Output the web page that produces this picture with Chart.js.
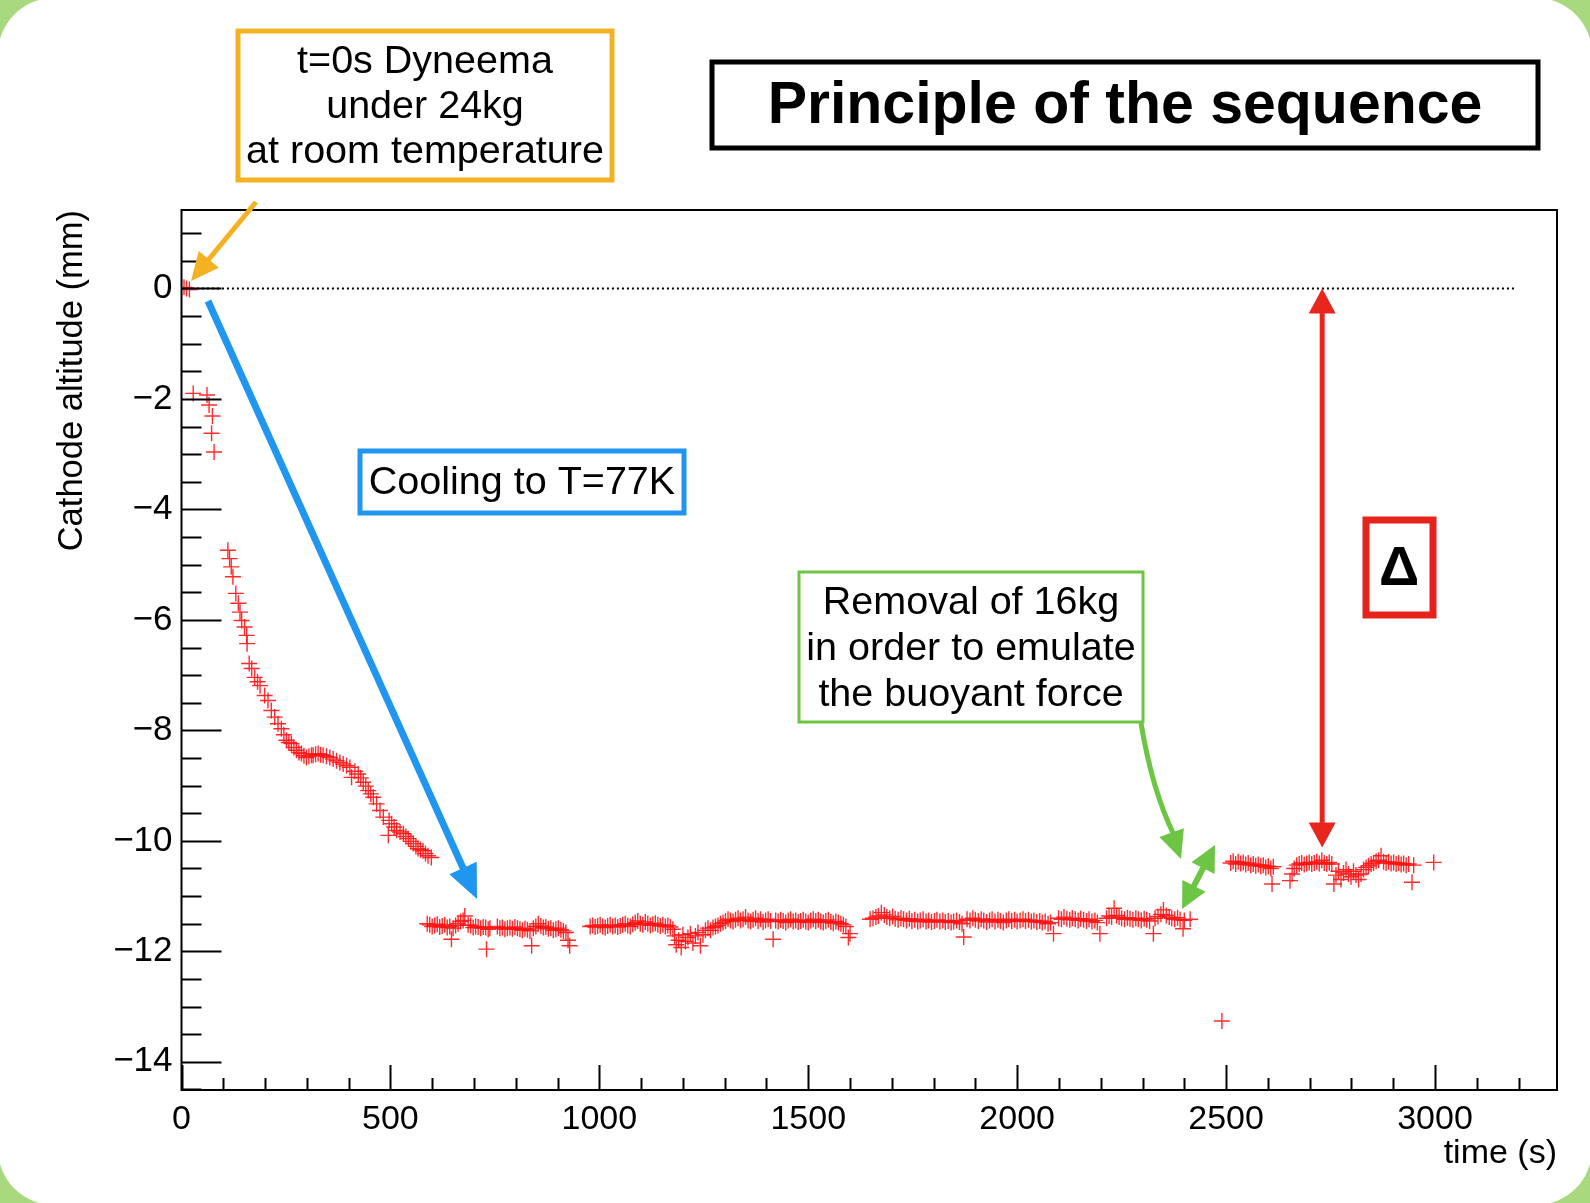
<!DOCTYPE html>
<html>
<head>
<meta charset="utf-8">
<script src="https://cdn.jsdelivr.net/npm/chart.js@4.4.1/dist/chart.umd.min.js"></script>
<style>
  html, body { margin: 0; padding: 0; width: 1590px; height: 1203px; overflow: hidden; background: #a9d97f; }
  #panel { position: absolute; left: -2px; top: -2px; width: 1594px; height: 1207px; background: #fff; border-radius: 56px; }
  #chart { position: absolute; left: 0; top: 0; }
</style>
</head>
<body>
<div id="panel"></div>
<canvas id="chart" width="1590" height="1203"></canvas>
<script>
/* DATA : [time (s), cathode altitude (mm)] */
var warmPoints = [[0, 0], [6, 0.02], [12, 0], [19, -0.02]];

var loadPoints = [[28, -1.90], [61, -1.93], [66, -2.11], [72, -2.62], [74, -2.31], [78, -2.96]];

var coolingPoints = [
  [111, -4.74], [115, -4.89], [119, -5.04], [123, -5.22], [130, -5.52], [136, -5.70], [140, -5.86],
  [144, -6.01], [151, -6.13], [156, -6.28], [157, -6.43], [162, -6.79], [168, -6.88], [175, -7.04],
  [182, -7.12], [188, -7.19], [199, -7.37], [207, -7.46], [215, -7.64], [223, -7.76], [231, -7.88],
  [239, -7.97], [245, -8.08], [251, -8.18], [257, -8.22], [263, -8.24], [269, -8.31], [275, -8.36],
  [281, -8.40], [287, -8.42], [293, -8.46], [299, -8.49], [305, -8.47], [311, -8.45], [315, -8.45],
  [321, -8.43], [327, -8.42], [333, -8.44], [339, -8.45], [347, -8.47], [355, -8.49], [363, -8.52],
  [371, -8.55], [379, -8.58], [387, -8.61], [395, -8.64], [403, -8.67], [407, -8.85], [415, -8.74],
  [423, -8.79], [429, -8.86], [435, -8.94], [441, -9.01], [447, -9.09], [453, -9.15], [459, -9.21],
  [467, -9.33], [475, -9.45], [483, -9.57], [495, -9.90], [497, -9.63], [503, -9.69], [509, -9.75],
  [515, -9.81], [523, -9.84], [531, -9.87], [537, -9.92], [543, -9.96], [549, -10.01], [555, -10.05],
  [561, -10.10], [566, -10.14], [572, -10.16], [578, -10.18], [584, -10.23], [590, -10.27], [598, -10.30]
];

var coldPoints1 = [
  [588, -11.50], [594, -11.52], [600, -11.55], [606, -11.53], [612, -11.51], [618, -11.56], [624, -11.54],
  [630, -11.52], [636, -11.57], [642, -11.55], [646, -11.78], [650, -11.58], [656, -11.53], [662, -11.50],
  [668, -11.46], [674, -11.44], [678, -11.36], [686, -11.52], [692, -11.53], [698, -11.57], [704, -11.55],
  [710, -11.56], [716, -11.58], [722, -11.56], [728, -11.57], [730, -11.96], [734, -11.60], [738, -11.58],
  [756, -11.55], [762, -11.58], [768, -11.57], [774, -11.60], [780, -11.58], [786, -11.57], [792, -11.59],
  [798, -11.56], [804, -11.58], [810, -11.60], [816, -11.62], [822, -11.59], [828, -11.61], [834, -11.63],
  [838, -11.90], [842, -11.58], [848, -11.55], [854, -11.50], [860, -11.54], [866, -11.57], [872, -11.56],
  [878, -11.59], [884, -11.58], [890, -11.62], [896, -11.60], [902, -11.58], [908, -11.61], [914, -11.63],
  [920, -11.66], [925, -11.80], [929, -11.90],
  [978, -11.55], [984, -11.53], [990, -11.56], [996, -11.54], [1002, -11.52], [1008, -11.55], [1014, -11.57],
  [1020, -11.54], [1026, -11.52], [1032, -11.55], [1038, -11.53], [1044, -11.56], [1050, -11.54], [1056, -11.52],
  [1062, -11.50], [1068, -11.53], [1074, -11.55], [1080, -11.51], [1086, -11.48], [1092, -11.45], [1098, -11.50],
  [1104, -11.52], [1110, -11.47], [1116, -11.50], [1122, -11.53], [1128, -11.51], [1134, -11.49], [1140, -11.52],
  [1146, -11.54], [1152, -11.52], [1158, -11.55], [1164, -11.53], [1170, -11.56], [1176, -11.60],
  [1180, -11.72], [1184, -11.88], [1190, -11.80], [1196, -11.93], [1200, -11.70], [1206, -11.82], [1212, -11.75],
  [1218, -11.68], [1224, -11.85], [1230, -11.72], [1236, -11.66], [1242, -11.90], [1248, -11.70], [1254, -11.62],
  [1260, -11.58], [1266, -11.62], [1272, -11.57],
  [1278, -11.55], [1284, -11.53], [1290, -11.50], [1296, -11.48], [1302, -11.45], [1308, -11.42], [1314, -11.44],
  [1320, -11.46], [1326, -11.43], [1332, -11.40], [1338, -11.44], [1344, -11.42], [1350, -11.38], [1356, -11.44],
  [1362, -11.46], [1368, -11.43], [1374, -11.40], [1380, -11.45], [1386, -11.42], [1392, -11.47], [1398, -11.44],
  [1404, -11.42], [1410, -11.45], [1416, -11.78], [1422, -11.44], [1428, -11.46], [1434, -11.43], [1440, -11.45],
  [1446, -11.48], [1452, -11.44], [1458, -11.42], [1464, -11.46], [1470, -11.44], [1476, -11.47], [1482, -11.45],
  [1488, -11.43], [1494, -11.46], [1500, -11.48], [1506, -11.44], [1512, -11.42], [1518, -11.45], [1524, -11.43],
  [1530, -11.46], [1536, -11.48], [1542, -11.45], [1548, -11.43], [1554, -11.47], [1560, -11.49], [1566, -11.46],
  [1572, -11.48], [1578, -11.50], [1584, -11.52], [1590, -11.55], [1596, -11.75], [1600, -11.68]
];

var coldPoints2 = [
  [1648, -11.42], [1655, -11.40], [1662, -11.38], [1668, -11.36], [1675, -11.30], [1682, -11.34], [1688, -11.38],
  [1695, -11.40], [1702, -11.37], [1708, -11.41], [1715, -11.43], [1722, -11.40], [1728, -11.42], [1735, -11.44],
  [1742, -11.41], [1748, -11.45], [1755, -11.43], [1762, -11.46], [1768, -11.44], [1775, -11.42], [1782, -11.46],
  [1788, -11.44], [1795, -11.47], [1802, -11.45], [1808, -11.43], [1815, -11.46], [1822, -11.44], [1828, -11.47],
  [1835, -11.45], [1842, -11.48], [1848, -11.46], [1855, -11.44], [1862, -11.47], [1868, -11.50], [1872, -11.74],
  [1880, -11.42], [1887, -11.44], [1894, -11.40], [1900, -11.43], [1907, -11.45], [1914, -11.42], [1920, -11.44],
  [1927, -11.47], [1934, -11.44], [1940, -11.42], [1947, -11.46], [1954, -11.43], [1960, -11.45], [1967, -11.48],
  [1974, -11.44], [1980, -11.42], [1987, -11.45], [1994, -11.43], [2000, -11.46], [2007, -11.44], [2014, -11.42],
  [2020, -11.45], [2027, -11.43], [2034, -11.46], [2040, -11.44], [2047, -11.47], [2054, -11.45], [2060, -11.48],
  [2067, -11.46], [2074, -11.50], [2080, -11.48], [2087, -11.68],
  [2099, -11.40], [2106, -11.42], [2112, -11.38], [2119, -11.41], [2126, -11.43], [2132, -11.40], [2139, -11.42],
  [2146, -11.44], [2152, -11.41], [2159, -11.43], [2166, -11.45], [2172, -11.42], [2179, -11.46], [2186, -11.44],
  [2192, -11.48], [2198, -11.68],
  [2214, -11.40], [2220, -11.36], [2226, -11.38], [2232, -11.22], [2238, -11.35], [2244, -11.38], [2250, -11.40],
  [2257, -11.42], [2264, -11.39], [2270, -11.41], [2277, -11.43], [2284, -11.40], [2290, -11.42], [2297, -11.44],
  [2304, -11.41], [2310, -11.43], [2317, -11.45], [2326, -11.68], [2330, -11.40], [2337, -11.37], [2344, -11.33],
  [2350, -11.25], [2357, -11.35], [2364, -11.38], [2370, -11.40], [2377, -11.42], [2384, -11.39], [2390, -11.43],
  [2397, -11.59], [2400, -11.44], [2414, -11.42]
];

var afterRemovalPoints = [
  [2490, -13.26],
  [2511, -10.40], [2517, -10.37], [2523, -10.42], [2529, -10.38], [2535, -10.41], [2541, -10.39], [2547, -10.43],
  [2553, -10.40], [2559, -10.44], [2565, -10.42], [2571, -10.45], [2577, -10.43], [2583, -10.46], [2589, -10.44],
  [2595, -10.48], [2601, -10.46], [2607, -10.50], [2610, -10.78], [2613, -10.47],
  [2653, -10.72], [2658, -10.60], [2663, -10.50], [2669, -10.44], [2675, -10.42], [2681, -10.40], [2687, -10.43],
  [2693, -10.41], [2699, -10.39], [2705, -10.42], [2711, -10.40], [2717, -10.38], [2723, -10.41], [2729, -10.35],
  [2735, -10.40], [2741, -10.42], [2747, -10.39], [2753, -10.42],
  [2758, -10.78], [2763, -10.62], [2769, -10.55], [2775, -10.70], [2781, -10.58], [2787, -10.52], [2793, -10.60],
  [2799, -10.65], [2805, -10.55], [2811, -10.62], [2817, -10.70], [2823, -10.60], [2829, -10.52], [2835, -10.48],
  [2841, -10.45], [2847, -10.42], [2853, -10.40], [2859, -10.37], [2865, -10.35], [2871, -10.27], [2877, -10.38],
  [2883, -10.40], [2889, -10.38], [2895, -10.41], [2901, -10.39], [2907, -10.42], [2913, -10.40], [2919, -10.43],
  [2925, -10.41], [2931, -10.44], [2937, -10.42], [2945, -10.75], [2949, -10.44], [2997, -10.39]
];

var zeroLine = [[25, 0], [3190, 0]];
var deltaArrow = { time: 2730, top: 0, bottom: -10.12 };

var xTickValues = [0, 500, 1000, 1500, 2000, 2500, 3000];
var yTickValues = [0, -2, -4, -6, -8, -10, -12, -14];
var xMinorStep = 100;
var yMinorStep = 0.5;

var FONT = '"Liberation Sans", Arial, Helvetica, sans-serif';

function toXY(list) {
  return list.map(function (p) { return { x: p[0], y: p[1] }; });
}

/* OK CIZIM */
function arrowHead(ctx, fx, fy, tx, ty, len, wid, color) {
  var a = Math.atan2(ty - fy, tx - fx);
  ctx.fillStyle = color;
  ctx.beginPath();
  ctx.moveTo(tx, ty);
  ctx.lineTo(tx - len * Math.cos(a) + wid / 2 * Math.sin(a), ty - len * Math.sin(a) - wid / 2 * Math.cos(a));
  ctx.lineTo(tx - len * Math.cos(a) - wid / 2 * Math.sin(a), ty - len * Math.sin(a) + wid / 2 * Math.cos(a));
  ctx.closePath();
  ctx.fill();
}

function arrow(ctx, x1, y1, x2, y2, color, width, len, wid, both) {
  var a = Math.atan2(y2 - y1, x2 - x1);
  var sx = both ? x1 + (len - 2) * Math.cos(a) : x1;
  var sy = both ? y1 + (len - 2) * Math.sin(a) : y1;
  ctx.strokeStyle = color;
  ctx.lineWidth = width;
  ctx.lineCap = 'butt';
  ctx.beginPath();
  ctx.moveTo(sx, sy);
  ctx.lineTo(x2 - (len - 2) * Math.cos(a), y2 - (len - 2) * Math.sin(a));
  ctx.stroke();
  arrowHead(ctx, x1, y1, x2, y2, len, wid, color);
  if (both) arrowHead(ctx, x2, y2, x1, y1, len, wid, color);
}

function textBox(ctx, x1, y1, x2, y2, color, width, lines, cx, ys, font) {
  ctx.strokeStyle = color;
  ctx.lineWidth = width;
  ctx.fillStyle = '#fff';
  ctx.fillRect(x1, y1, x2 - x1, y2 - y1);
  ctx.strokeRect(x1, y1, x2 - x1, y2 - y1);
  ctx.fillStyle = '#000';
  ctx.font = font;
  ctx.textAlign = 'center';
  ctx.textBaseline = 'middle';
  for (var i = 0; i < lines.length; i++) {
    ctx.fillText(lines[i], cx, ys[i]);
  }
}

var framePlugin = {
  id: 'frameAndNotes',
  afterDatasetsDraw: function (chart) {
    var ctx = chart.ctx;
    var area = chart.chartArea;
    var xs = chart.scales.x;
    var ys = chart.scales.y;
    ctx.save();

    /* CERCEVE VE TIKLER */
    ctx.strokeStyle = '#000';
    ctx.lineWidth = 2;
    ctx.strokeRect(area.left, area.top, area.right - area.left, area.bottom - area.top);
    ctx.beginPath();
    for (var t = 0; t <= xs.max; t += xMinorStep) {
      var px = Math.round(xs.getPixelForValue(t)) + 0.5;
      var major = xTickValues.indexOf(t) >= 0;
      ctx.moveTo(px, area.bottom);
      ctx.lineTo(px, area.bottom - (major ? 25 : 12));
    }
    for (var v = 1; v >= ys.min; v -= yMinorStep) {
      var py = Math.round(ys.getPixelForValue(v)) + 0.5;
      var majorY = yTickValues.indexOf(v) >= 0;
      ctx.moveTo(area.left, py);
      ctx.lineTo(area.left + (majorY ? 40 : 20), py);
    }
    ctx.stroke();

    /* NOTLAR */
    textBox(ctx, 238, 31, 612, 180, '#f4b223', 5,
      ['t=0s Dyneema', 'under 24kg', 'at room temperature'], 425, [62, 107, 152], '39.5px ' + FONT);
    textBox(ctx, 712, 62, 1538, 148, '#000', 5,
      ['Principle of the sequence'], 1125, [107], 'bold 59px ' + FONT);
    textBox(ctx, 360, 451, 684, 513, '#2196f0', 5,
      ['Cooling to T=77K'], 522, [483], '39.5px ' + FONT);
    textBox(ctx, 799, 572, 1143, 722, '#6cc644', 3,
      ['Removal of 16kg', 'in order to emulate', 'the buoyant force'], 971, [603, 649, 695], '39.5px ' + FONT);
    textBox(ctx, 1366, 520, 1433, 615, '#e5231b', 7,
      ['\u0394'], 1399, [570], 'bold 56px ' + FONT);

    /* OKLAR */
    arrow(ctx, 256, 202, 191, 281, '#f4b223', 5, 28, 26, false);
    arrow(ctx, 208, 301, 477, 899, '#2196f0', 7, 34, 30, false);

    var dx = xs.getPixelForValue(deltaArrow.time);
    arrow(ctx, dx, ys.getPixelForValue(deltaArrow.top), dx, ys.getPixelForValue(deltaArrow.bottom),
      '#e8261e', 5, 25, 27, true);

    ctx.strokeStyle = '#6cc644';
    ctx.lineWidth = 5;
    ctx.beginPath();
    ctx.moveTo(1141, 723);
    ctx.quadraticCurveTo(1152, 790, 1174, 835);
    ctx.stroke();
    arrowHead(ctx, 1160, 800, 1181, 859, 28, 26, '#6cc644');
    arrow(ctx, 1182, 909, 1215, 845, '#6cc644', 6, 26, 26, true);

    ctx.restore();
  }
};

var ctx = document.getElementById('chart').getContext('2d');
var pointStyle = {
  showLine: false,
  pointStyle: 'cross',
  pointRadius: 8,
  pointBorderWidth: 1.4,
  borderColor: 'rgba(255, 20, 20, 0.9)',
  backgroundColor: 'rgba(255, 20, 20, 0.9)'
};

var allPoints = [].concat(warmPoints, loadPoints, coolingPoints, coldPoints1, coldPoints2, afterRemovalPoints);

new Chart(ctx, {
  type: 'scatter',
  data: {
    datasets: [
      Object.assign({ label: 'altitude', data: toXY(allPoints) }, pointStyle),
      {
        label: 'zero',
        data: toXY(zeroLine),
        showLine: true,
        borderColor: '#000',
        borderWidth: 2,
        borderDash: [2, 3],
        pointRadius: 0
      }
    ]
  },
  options: {
    responsive: false,
    animation: false,
    devicePixelRatio: 1,
    layout: { padding: { left: 0, top: 210, right: 33, bottom: 22 } },
    plugins: { legend: { display: false }, tooltip: { enabled: false } },
    scales: {
      x: {
        type: 'linear',
        min: 0,
        max: 3292,
        afterBuildTicks: function (axis) { axis.ticks = xTickValues.map(function (v) { return { value: v }; }); },
        afterFit: function (axis) { axis.height = 91; },
        grid: { display: false, drawTicks: false },
        border: { display: false },
        ticks: {
          autoSkip: false,
          maxRotation: 0,
          padding: 9,
          color: '#000',
          font: { family: FONT, size: 34 },
          callback: function (v) { return String(v); }
        },
        title: { display: true, text: 'time (s)', align: 'end', color: '#000', font: { family: FONT, size: 34 }, padding: { top: 0, bottom: 7 } }
      },
      y: {
        type: 'linear',
        min: -14.51,
        max: 1.42,
        afterBuildTicks: function (axis) { axis.ticks = yTickValues.map(function (v) { return { value: v }; }); },
        afterFit: function (axis) { axis.width = 181.5; },
        grid: { display: false, drawTicks: false },
        border: { display: false },
        ticks: {
          autoSkip: false,
          padding: 9,
          color: '#000',
          font: { family: FONT, size: 35 },
          callback: function (v) { return v < 0 ? '\u2212' + Math.abs(v) : String(v); }
        },
        title: { display: true, text: 'Cathode altitude (mm)', align: 'end', color: '#000', font: { family: FONT, size: 34.5 }, padding: { top: 52, bottom: 0 } }
      }
    }
  },
  plugins: [framePlugin]
});
</script>
</body>
</html>
